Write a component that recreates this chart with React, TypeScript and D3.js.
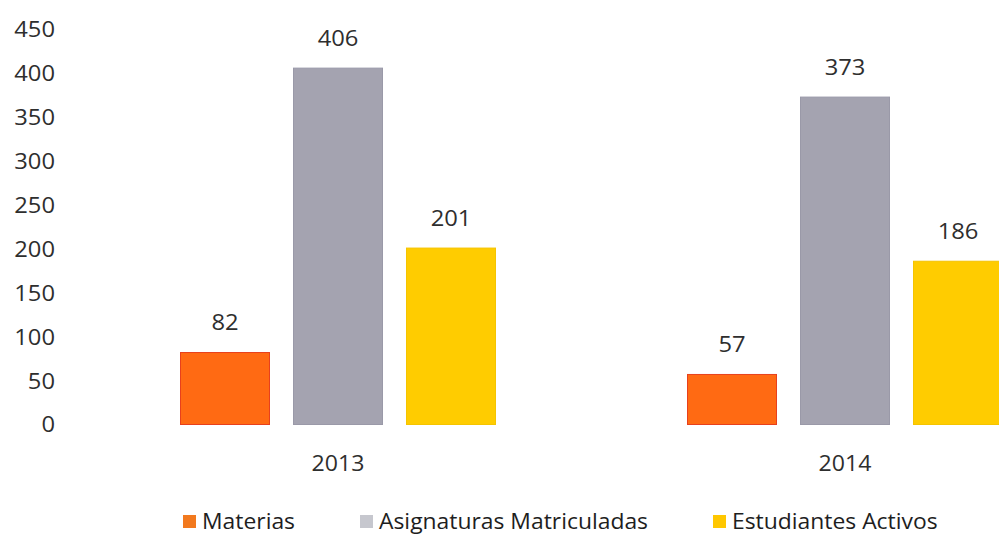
import React from "react";
import * as d3 from "d3";

const categories = ["2013", "2014"];
const seriesNames = ["Materias", "Asignaturas Matriculadas", "Estudiantes Activos"];
const materias = [82, 57];
const asignaturas = [406, 373];
const estudiantes = [201, 186];
const yTicks = [0, 50, 100, 150, 200, 250, 300, 350, 400, 450];

const colors = ["#FF6A13", "#A4A3B0", "#FFCC00"];
const legendColors = ["#F2791E", "#C6C7CE", "#FFC700"];
const strokes = ["#E8401C", "#9A99A8", "#F5C400"];

const W = 999;
const H = 536;
const FONT = "'Open Sans', sans-serif";
const TXT = "#2e2e2e";
const SX = 1.08;

export default function App() {
  const values = [materias, asignaturas, estudiantes];
  const y = d3.scaleLinear().domain([0, 450]).range([424.5, 29.5]);
  const x0 = d3.scaleBand().domain(categories).range([84.5, 1098.5]);
  const x1 = d3.scaleBand().domain(seriesNames).range([-157.5, 157.5]).paddingInner(24 / 113);

  const legendX = [183, 360, 713];

  return (
    <svg width={W} height={H} style={{ position: "absolute", left: 0, top: 0, background: "#fff" }}>
      <rect x={0} y={0} width={W} height={H} fill="#fff" />
      {yTicks.map((t) => (
        <g key={t} transform={`translate(55,${y(t)}) scale(${SX},1)`}>
          <text x={0} y={0} dy="0.36em" textAnchor="end" fontFamily={FONT} fontSize={22} fill={TXT}>
            {t}
          </text>
        </g>
      ))}
      {categories.map((c, ci) => {
        const cx = (x0(c) as number) + x0.bandwidth() / 2;
        return (
          <g key={c}>
            {seriesNames.map((s, si) => {
              const v = values[si][ci];
              const bx = cx + (x1(s) as number);
              return (
                <g key={s}>
                  <rect
                    x={bx}
                    y={y(v)}
                    width={x1.bandwidth()}
                    height={y(0) - y(v)}
                    fill={colors[si]}
                    stroke={strokes[si]}
                    strokeWidth={1}
                  />
                  <g transform={`translate(${bx + x1.bandwidth() / 2},${y(v) - 30}) scale(${SX},1)`}>
                    <text x={0} y={0} dy="0.36em" textAnchor="middle" fontFamily={FONT} fontSize={22} fill={TXT}>
                      {v}
                    </text>
                  </g>
                </g>
              );
            })}
            <g transform={`translate(${cx},${463}) scale(1.1,1)`}>
              <text x={0} y={0} dy="0.36em" textAnchor="middle" fontFamily={FONT} fontSize={21} fill={TXT}>
                {c}
              </text>
            </g>
          </g>
        );
      })}
      {seriesNames.map((s, si) => (
        <g key={s} transform={`translate(${legendX[si]},521)`}>
          <rect x={0} y={-6} width={13} height={13} fill={legendColors[si]} />
          <g transform="translate(19,0) scale(1.04,1)">
            <text x={0} y={0} dy="0.36em" fontFamily={FONT} fontSize={22} fill="#1e1e1e">
              {s}
            </text>
          </g>
        </g>
      ))}
    </svg>
  );
}
